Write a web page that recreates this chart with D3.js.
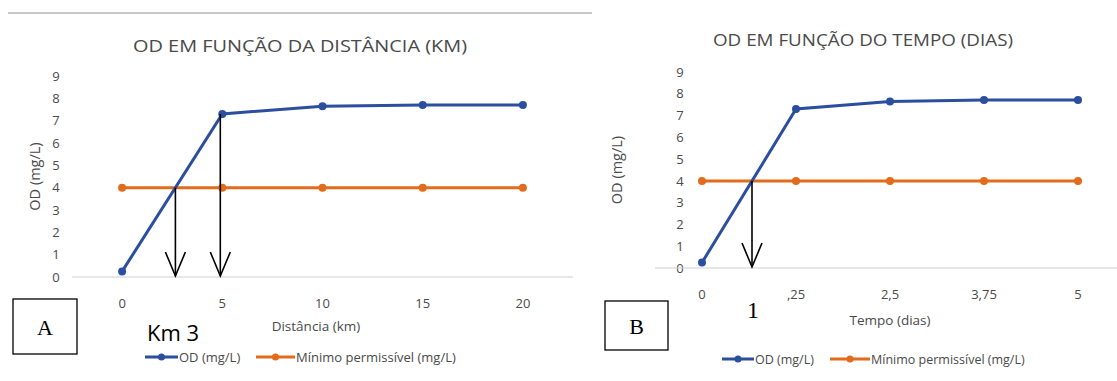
<!DOCTYPE html>
<html><head><meta charset="utf-8">
<script src="https://cdn.jsdelivr.net/npm/d3@7"></script>
<style>body{margin:0;background:#fff}svg{display:block}</style>
</head><body>
<svg id="c" width="1117" height="381"></svg>
<script>
const yTicks = [0,1,2,3,4,5,6,7,8,9];
const catsA = ["0","5","10","15","20"];
const odA = [0.25, 7.3, 7.65, 7.7, 7.7];
const minA = [4, 4, 4, 4, 4];
const catsB = ["0",",25","2,5","3,75","5"];
const odB = [0.25, 7.3, 7.65, 7.72, 7.72];
const minB = [4, 4, 4, 4, 4];
const seriesNames = ["OD (mg/L)", "Mínimo permissível (mg/L)"];

const BLUE = "#2b4f9e", ORANGE = "#e26b1c", GRAY = "#4a4a4a";
const FONT = "'Open Sans',sans-serif";
const svg = d3.select("#c");

// top separator line
svg.append("line").attr("x1",8).attr("x2",592).attr("y1",13).attr("y2",13)
  .attr("stroke","#c8c8c8").attr("stroke-width",2);

function chart(o){
  const x = d3.scaleBand().domain(o.cats).range(o.xr);
  const cx = c => x(c) + x.bandwidth()/2;
  const y = d3.scaleLinear().domain([0,9]).range(o.yr);
  const g = svg.append("g");
  g.append("text").attr("x",o.titleX).attr("y",o.titleY).attr("text-anchor","middle")
    .attr("font-family",FONT).attr("font-size",17).attr("fill",GRAY)
    .attr("textLength",o.titleW).attr("lengthAdjust","spacingAndGlyphs").text(o.title);
  // y axis tick labels
  const ya = g.append("g").attr("transform",`translate(${o.yTickX},0)`)
    .call(d3.axisLeft(y).tickValues(yTicks).tickSize(0).tickPadding(0));
  ya.select(".domain").remove();
  ya.selectAll("text").attr("font-family",FONT).attr("font-size",13).attr("fill",GRAY).attr("text-anchor","middle");
  // baseline
  g.append("line").attr("x1",o.xr[0]).attr("x2",o.xr[1]).attr("y1",y(0)).attr("y2",y(0))
    .attr("stroke","#d0d0d0").attr("stroke-width",1.2);
  // x tick labels
  const xa = g.append("g").attr("transform",`translate(0,${y(0)+22})`)
    .call(d3.axisBottom(x).tickSize(0).tickPadding(0));
  xa.select(".domain").remove();
  xa.selectAll("text").attr("font-family",FONT).attr("font-size",13).attr("fill",GRAY);
  // axis titles
  g.append("text").attr("transform",`translate(${o.yLabX},${y(4.5)}) rotate(-90)`)
    .attr("text-anchor","middle").attr("font-family",FONT).attr("font-size",14.5).attr("fill",GRAY).text("OD (mg/L)");
  g.append("text").attr("x",o.xLabX).attr("y",o.xLabY).attr("text-anchor","middle")
    .attr("font-family",FONT).attr("font-size",13.5).attr("fill",GRAY).text(o.xLab);
  // series
  const line = d3.line().x((d,i)=>cx(o.cats[i])).y(d=>y(d));
  [[o.min,ORANGE],[o.od,BLUE]].forEach(([vals,col])=>{
    g.append("path").datum(vals).attr("d",line).attr("fill","none").attr("stroke",col).attr("stroke-width",3);
    g.selectAll(null).data(vals).enter().append("circle")
      .attr("cx",(d,i)=>cx(o.cats[i])).attr("cy",d=>y(d)).attr("r",4).attr("fill",col);
  });
  // arrows
  function arrow(ax, ay){
    const by = y(0)-1;
    g.append("line").attr("x1",ax).attr("x2",ax).attr("y1",ay).attr("y2",by).attr("stroke","#000").attr("stroke-width",1.6);
    g.append("path").attr("d",`M${ax-10},${by-24}L${ax},${by}L${ax+10},${by-24}`)
      .attr("fill","none").attr("stroke","#000").attr("stroke-width",1.6);
  }
  // crossing of OD with minimum
  for(let i=0;i<o.od.length-1;i++){
    const a=o.od[i]-o.min[i], b=o.od[i+1]-o.min[i+1];
    if(a<=0 && b>0){
      const t=a/(a-b);
      arrow(cx(o.cats[i])+t*(cx(o.cats[i+1])-cx(o.cats[i])), y(o.min[i]));
    }
  }
  if(o.arrowCat!==undefined){ const i=o.cats.indexOf(o.arrowCat); arrow(cx(o.arrowCat)-2, y(o.od[i])); }
  // box label
  g.append("rect").attr("x",o.box[0]).attr("y",o.box[1]).attr("width",o.box[2]).attr("height",o.box[3])
    .attr("fill","#fff").attr("stroke","#000").attr("stroke-width",1.3);
  g.append("text").attr("x",o.box[0]+o.box[2]/2).attr("y",o.box[1]+o.box[3]/2+8).attr("text-anchor","middle")
    .attr("font-family","'Liberation Serif',serif").attr("font-size",22).text(o.boxLab);
  // note text
  g.append("text").attr("x",o.note[0]).attr("y",o.note[1]).attr("font-family",o.noteFont)
    .attr("font-size",o.noteSize).attr("fill","#000").text(o.note[2]);
  // legend
  const lg = g.append("g").attr("transform",`translate(0,${o.legY})`);
  [[BLUE,o.leg[0],o.leg[1],seriesNames[0]],[ORANGE,o.leg[2],o.leg[3],seriesNames[1]]].forEach(([col,x0,x1,name])=>{
    lg.append("line").attr("x1",x0).attr("x2",x1).attr("stroke",col).attr("stroke-width",3);
    lg.append("circle").attr("cx",(x0+x1)/2).attr("r",3.5).attr("fill",col);
    lg.append("text").attr("x",x1+1).attr("y",4.5).attr("font-family",FONT).attr("font-size",o.legSize).attr("fill",GRAY).text(name);
  });
}

chart({cats:catsA, od:odA, min:minA, xr:[72,573], yr:[277,76],
  title:"OD EM FUNÇÃO DA DISTÂNCIA (KM)", titleX:300, titleY:52, titleW:334,
  yTickX:56, yLabX:40, xLab:"Distância (km)", xLabX:316, xLabY:331,
  arrowCat:"5", box:[13,299,64,55], boxLab:"A",
  note:[147,341,"Km 3"], noteFont:"'Open Sans',sans-serif", noteSize:22,
  legY:357, leg:[145,178,256,295], legSize:13});

chart({cats:catsB, od:odB, min:minB, xr:[655,1125], yr:[268,72],
  title:"OD EM FUNÇÃO DO TEMPO (DIAS)", titleX:863, titleY:46, titleW:300,
  yTickX:680, yLabX:622, xLab:"Tempo (dias)", xLabX:890, xLabY:325,
  box:[605,301,63,49], boxLab:"B",
  note:[747,318,"1"], noteFont:"'Liberation Serif',serif", noteSize:24,
  legY:359, leg:[722,754,830,870], legSize:12.5});
</script>
</body></html>
